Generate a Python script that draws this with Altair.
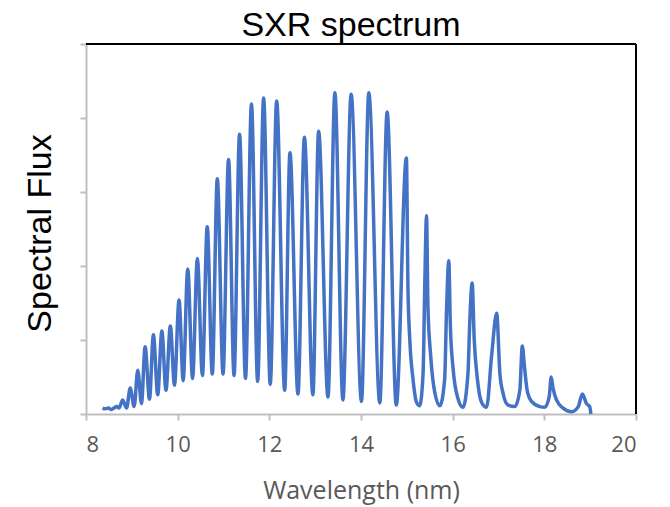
import altair as alt
import pandas as pd

# Wavelength (nm) and spectral flux (arbitrary, 1 unit = one y tick)
wavelength = [
    8.36, 8.42, 8.49, 8.55, 8.61, 8.67, 8.72,
    8.80, 8.885, 8.965, 9.05, 9.13, 9.21, 9.29, 9.385, 9.47, 9.565,
    9.655, 9.745, 9.84, 9.93, 10.03, 10.12, 10.22, 10.325, 10.43, 10.54,
    10.645, 10.755, 10.865, 10.99, 11.11, 11.23, 11.35, 11.48, 11.61, 11.745,
    11.875, 12.02, 12.16, 12.335, 12.45, 12.625, 12.765, 12.95, 13.075, 13.28,
    13.43, 13.605, 13.785, 14.01, 14.17, 14.41, 14.57, 14.77,
    14.99, 15.025, 15.065, 15.135, 15.21, 15.28, 15.355, 15.39,
    15.43, 15.46, 15.52, 15.61, 15.72, 15.825, 15.865,
    15.915, 15.95, 16.01, 16.12, 16.225, 16.335, 16.37,
    16.425, 16.47, 16.54, 16.63, 16.74, 16.85,
    16.96, 17.03, 17.10, 17.21, 17.355, 17.465,
    17.52, 17.565, 17.625, 17.72, 17.90, 18.01, 18.105,
    18.15, 18.19, 18.265, 18.41, 18.595, 18.74,
    18.83, 18.92, 18.99, 19.015,
]
flux = [
    0.08, 0.07, 0.08, 0.06, 0.08, 0.10, 0.08,
    0.19, 0.08, 0.35, 0.10, 0.59, 0.14, 0.91, 0.20, 1.07, 0.26,
    1.12, 0.32, 1.19, 0.39, 1.54, 0.45, 1.96, 0.48, 2.10, 0.52,
    2.53, 0.54, 3.18, 0.54, 3.44, 0.52, 3.78, 0.48, 4.19, 0.44,
    4.27, 0.40, 4.23, 0.32, 3.53, 0.27, 3.74, 0.26, 3.82, 0.23,
    4.34, 0.19, 4.32, 0.17, 4.34, 0.15, 4.08, 0.12,
    3.46, 1.69, 1.00, 0.47, 0.16, 0.11, 0.56, 1.69,
    2.68, 1.46, 0.79, 0.29, 0.11, 0.47, 1.37,
    2.07, 1.19, 0.61, 0.20, 0.09, 0.56, 1.19,
    1.77, 1.01, 0.47, 0.16, 0.09, 0.79,
    1.36, 0.55, 0.28, 0.12, 0.10, 0.32,
    0.92, 0.65, 0.32, 0.17, 0.10, 0.09, 0.23,
    0.50, 0.35, 0.19, 0.08, 0.03, 0.10,
    0.27, 0.14, 0.10, 0.00,
]
x_ticks = [8, 10, 12, 14, 16, 18, 20]
y_ticks = [0, 1, 2, 3, 4, 5]
chart_title = "SXR spectrum"

df = pd.DataFrame({"wl": wavelength, "flux": flux})
one = pd.DataFrame({"k": [0]})

W, H = 550, 370
AXIS_GRAY = "#BFBFBF"
TEXT_GRAY = "#595959"

line = alt.Chart(df).mark_line(
    color="#4472C4", strokeWidth=3.5, interpolate="monotone"
).encode(
    x=alt.X(
        "wl:Q",
        scale=alt.Scale(domain=[8, 20], nice=False, zero=False),
        axis=alt.Axis(
            values=x_ticks, grid=False, title="Wavelength (nm)",
            domainColor=AXIS_GRAY, domainWidth=2, tickColor=AXIS_GRAY, tickWidth=2,
            tickSize=6, labelPadding=14, labelFont="Open Sans", labelFontSize=22,
            labelColor=TEXT_GRAY, titleFont="Open Sans", titleFontSize=25,
            titleFontWeight="normal", titleColor=TEXT_GRAY,
            titleBaseline="alphabetic", titleY=84,
        ),
    ),
    y=alt.Y(
        "flux:Q",
        scale=alt.Scale(domain=[0, 5], nice=False),
        axis=alt.Axis(
            values=y_ticks, grid=False, labels=False, title="Spectral Flux",
            domainColor=AXIS_GRAY, domainWidth=2, tickColor=AXIS_GRAY, tickWidth=2,
            tickSize=6, titleFont="Liberation Sans", titleFontSize=34,
            titleFontWeight="normal", titleColor="black", titleAngle=-90,
            titleBaseline="alphabetic", titleAlign="center", titleX=-36, titleY=H / 2 + 4,
        ),
    ),
)

top_border = alt.Chart(one).mark_rule(color="black", strokeWidth=2).encode(
    x=alt.value(0), x2=alt.value(W), y=alt.value(0)
)
right_border = alt.Chart(one).mark_rule(color="black", strokeWidth=2).encode(
    x=alt.value(W), y=alt.value(0), y2=alt.value(H)
)
title_text = alt.Chart(one).mark_text(
    text=chart_title, font="Liberation Sans", fontSize=34, color="black",
    align="center", baseline="alphabetic",
).encode(x=alt.value(W / 2 - 10), y=alt.value(-8))

chart = alt.layer(line, top_border, right_border, title_text).properties(
    width=W,
    height=H,
    padding={"left": 78, "top": 36, "right": 20, "bottom": 92},
    autosize=alt.AutoSizeParams(type="none"),
).configure_view(stroke=None)

chart.save("out.html", embed_options={"renderer": "svg", "actions": False})
